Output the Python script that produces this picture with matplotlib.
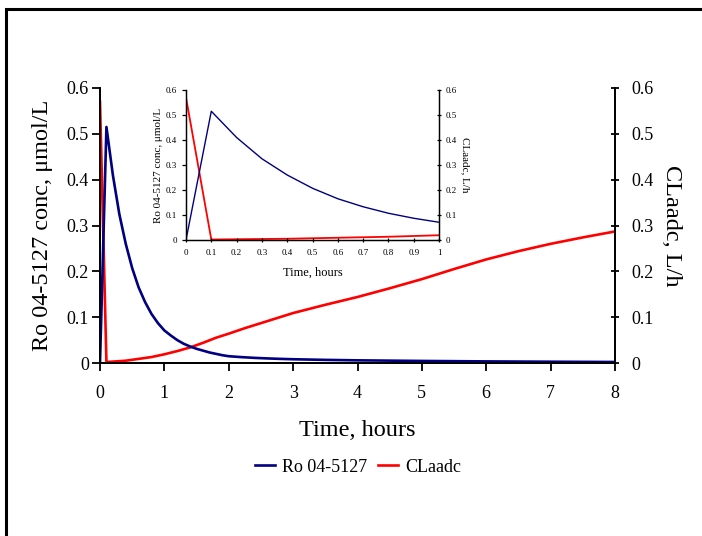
import matplotlib.pyplot as plt
from matplotlib.patches import Rectangle

# Ro 04-5127 concentration, umol/L
t_conc = [0, 0.1, 0.2, 0.3, 0.4, 0.5, 0.6, 0.7, 0.8, 0.9, 1.0, 1.1, 1.2, 1.3, 1.4,
          1.5, 1.6, 1.7, 1.8, 1.9, 2.0, 2.2, 2.4, 2.6, 2.8, 3.0, 3.5, 4.0, 5.0,
          6.0, 7.0, 8.0]
conc = [0, 0.515, 0.41, 0.325, 0.26, 0.207, 0.165, 0.133, 0.107, 0.087, 0.071,
        0.060, 0.050, 0.042, 0.036, 0.031, 0.027, 0.023, 0.020, 0.017, 0.0148,
        0.0128, 0.0112, 0.0100, 0.0090, 0.0082, 0.0068, 0.0058, 0.0045, 0.0035,
        0.0028, 0.0022]

# CLaadc, L/h
t_cl = [0, 0.1, 0.2, 0.3, 0.4, 0.5, 0.6, 0.7, 0.8, 0.9, 1.0, 1.2, 1.4, 1.6, 1.8,
        2.0, 2.25, 2.5, 2.75, 3.0, 3.5, 4.0, 4.5, 5.0, 5.5, 6.0, 6.5, 7.0, 7.5, 8.0]
cl = [0.57, 0.002, 0.003, 0.004, 0.005, 0.007, 0.009, 0.011, 0.013, 0.016, 0.019,
      0.026, 0.034, 0.044, 0.055, 0.064, 0.076, 0.087, 0.098, 0.109, 0.127, 0.144,
      0.163, 0.183, 0.205, 0.226, 0.244, 0.260, 0.274, 0.287]

yticks = [0, 0.1, 0.2, 0.3, 0.4, 0.5, 0.6]
ytick_labels = ["0", "0.1", "0.2", "0.3", "0.4", "0.5", "0.6"]
inset_xticks = [0, 0.1, 0.2, 0.3, 0.4, 0.5, 0.6, 0.7, 0.8, 0.9, 1.0]
inset_xlabels = ["0", "0.1", "0.2", "0.3", "0.4", "0.5", "0.6", "0.7", "0.8", "0.9", "1"]
BLUE = "#000080"
RED = "#ff0000"

plt.rcParams["font.family"] = ["Liberation Serif", "DejaVu Serif"]

fig = plt.figure(figsize=(7.02, 5.36), dpi=100)

# outer frame, runs off the right and bottom edges
fig.patches.append(Rectangle((6 / 702, -0.1), 1.2, (527 / 536) + 0.1,
                             transform=fig.transFigure, fill=False,
                             edgecolor="black", linewidth=2.2))


def style_axes(ax, ax2, tick_size, tlen, lw):
    for a in (ax, ax2):
        a.set_ylim(0, 0.6)
        a.set_yticks(yticks)
        a.set_yticklabels(ytick_labels)
        for s in a.spines.values():
            s.set_linewidth(lw)
        a.spines["top"].set_visible(False)
    ax.tick_params(axis="both", labelsize=tick_size, length=tlen, width=lw,
                   direction="out")
    ax2.tick_params(axis="y", labelsize=tick_size, length=tlen, width=lw,
                    direction="inout")


# main plot
ax = fig.add_axes([100 / 702, 1 - 363 / 536, 515 / 702, 275 / 536])
ax2 = ax.twinx()
l1, = ax.plot(t_conc, conc, color=BLUE, lw=1.9, label="Ro 04-5127")
l2, = ax2.plot(t_cl, cl, color=RED, lw=1.9, label="CLaadc")
ax.set_xlim(0, 8)
ax.set_xticks(range(9))
style_axes(ax, ax2, 13, 6, 1.3)
ax.tick_params(axis="x", pad=10)
ax.tick_params(axis="y", pad=2)
ax2.tick_params(axis="y", pad=9)
ax.set_xlabel("Time, hours", fontsize=17.5, labelpad=13)
ax.set_ylabel("Ro 04-5127 conc, \u03bcmol/L", fontsize=17.5, labelpad=9.5)
ax2.set_ylabel("CLaadc, L/h", fontsize=17.5, rotation=270, labelpad=20)
ax.set_zorder(ax2.get_zorder() + 1)
ax.patch.set_visible(False)

fig.legend(handles=[l1, l2], loc="center", bbox_to_anchor=(358 / 702, 1 - 467 / 536),
           ncol=2, frameon=False, fontsize=13, handlelength=1.1, columnspacing=0.6,
           handletextpad=0.4)

# inset, first hour
ins = fig.add_axes([186 / 702, 1 - 240 / 536, 253 / 702, 150 / 536])
ins2 = ins.twinx()
ins.plot(t_conc, conc, color=BLUE, lw=1.0)
ins2.plot(t_cl, cl, color=RED, lw=1.3)
ins.set_xlim(0, 1)
ins.set_xticks(inset_xticks)
ins.set_xticklabels(inset_xlabels)
style_axes(ins, ins2, 6.5, 3, 0.9)
ins.tick_params(axis="x", direction="inout", pad=5)
ins.set_xlabel("Time, hours", fontsize=9, labelpad=7)
ins.set_ylabel("Ro 04-5127 conc, \u03bcmol/L", fontsize=8, labelpad=2)
ins2.set_ylabel("CLaadc, L/h", fontsize=8, rotation=270, labelpad=9)
ins2.set_zorder(ax.get_zorder() + 1)
ins.set_zorder(ax.get_zorder() + 2)
ins.patch.set_visible(False)
ins2.patch.set_facecolor("white")

fig.savefig("out.png", dpi=100)
